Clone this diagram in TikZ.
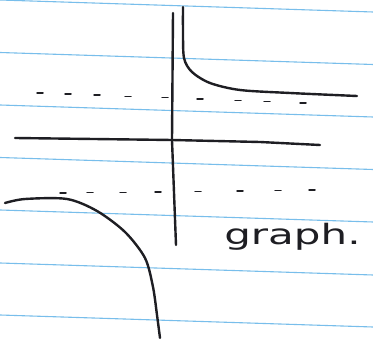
\documentclass[tikz,border=0pt]{standalone}
\usepackage{fontspec}
\setmainfont{DejaVu Sans}
\definecolor{ruleblue}{RGB}{120,190,235}
\definecolor{ink}{RGB}{30,30,35}
\begin{document}
\begin{tikzpicture}[x=1pt,y=-1pt,
  ruled/.style={draw=ruleblue, line width=1.1pt},
  pen/.style={draw=ink, line width=2.4pt, line cap=round, line join=round},
  dashmark/.style={draw=ink, line width=1.5pt, line cap=round}]
\useasboundingbox (0,0) rectangle (373,339);
\fill[white] (0,0) rectangle (373,339);
% ruled paper lines
\foreach \y in {0,52.5,105,157.5,210,263,315}
  \draw[ruled] (0,\y) -- (373,\y+12);
% axes
\draw[pen] (173,13) -- (172,140) -- (176,245);
\draw[pen] (15,138) -- (172,140) -- (260,142) -- (320,145);
% asymptotes (dashed)
\foreach \x in {40,68,97,128,165,200,238,267,303}
  \draw[dashmark] ({\x-3},{93+(\x-40)*10/265}) -- ({\x+3},{93+(\x-40)*10/265});
\foreach \x in {63,90,123,158,198,240,278,312}
  \draw[dashmark] ({\x-3},{193-(\x-63)*3/250}) -- ({\x+3},{193-(\x-63)*3/250});
% branches
\draw[pen] plot[smooth] coordinates {(183,7) (183,30) (184,58) (192,72) (210,83) (240,90) (290,93) (357,96)};
\draw[pen] plot[smooth] coordinates {(5,203) (25,199) (67,199) (97,211) (125,232) (145,258) (153,287) (157,315) (160,338)};
% label
\node[font=\fontsize{28}{28}\selectfont, text=ink, xscale=1.5, anchor=base west, inner sep=0pt] (lbl) at (224,245) {graph.};
\end{tikzpicture}
\end{document}
